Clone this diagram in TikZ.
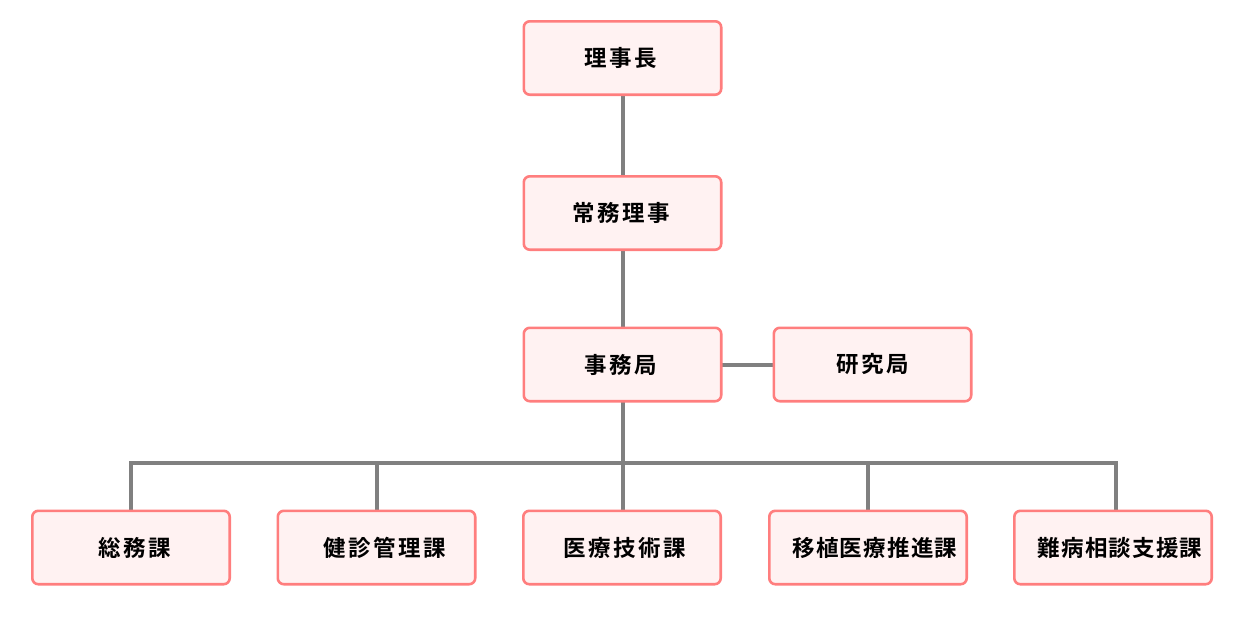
\documentclass[tikz,border=0pt]{standalone}
\usepackage{fontspec}
\newfontfamily\jpfont[LetterSpace=11.4]{Noto Sans CJK JP Bold}
\newfontfamily\jpfontn[LetterSpace=5.3]{Noto Sans CJK JP Bold}
\definecolor{boxline}{HTML}{FF7E7E}
\definecolor{boxfill}{HTML}{FFF2F2}
\definecolor{conn}{HTML}{808080}
\begin{document}
\begin{tikzpicture}[x=1pt,y=-1pt,
  orgbox/.style={minimum width=197pt,minimum height=73pt,inner sep=0pt},
  boxdraw/.style={draw=boxline,fill=boxfill,line width=2.6pt,rounded corners=6pt},
  lbl/.style={font=\jpfont\fontsize{22.5}{26}\selectfont,text=black},
  lbln/.style={font=\jpfontn\fontsize{22.5}{26}\selectfont,text=black},
  link/.style={draw=conn,line width=4pt}]
\useasboundingbox (0,0) rectangle (1244,619);
\coordinate (j) at (622.5,463);
\coordinate (jl) at (131,463);
\coordinate (jr) at (1116,463);
\node[orgbox] (a) at (622.5,58) {};
\node[orgbox] (b) at (622.5,213) {};
\node[orgbox] (c) at (622.5,364.5) {};
\node[orgbox] (r) at (872.5,364.5) {};
\node[orgbox] (d1) at (131,547.5) {};
\node[orgbox] (d2) at (376.5,547.5) {};
\node[orgbox] (d3) at (622,547.5) {};
\node[orgbox] (d4) at (868,547.5) {};
\node[orgbox] (d5) at (1113,547.5) {};
\path[link] (a.south) -- (b.north);
\path[link] (b.south) -- (c.north);
\path[link] (c.east) -- (r.west);
\path[link] (c.south) -- (j);
\path[link,line cap=rect] (jl) -- (jr);
\path[link] (jl) -- (jl |- d1.north);
\path[link] (d2.north |- j) -- (d2.north);
\path[link] (d4.north |- j) -- (d4.north);
\path[link] (jr) -- (jr |- d5.north);
\path[link] (j) -- (j |- d3.north);
\foreach \n in {a,b,c,r,d1,d2,d3,d4,d5}{
  \draw[boxdraw] (\n.south west) rectangle (\n.north east);
}
\node[lbl] (ta) at ([xshift=-1.8pt]a.center) {理事長};
\node[lbl] (tb) at ([xshift=-1pt]b.center) {常務理事};
\node[lbl] (tc) at ([xshift=-1.8pt]c.center) {事務局};
\node[lbl] (tr) at ([xshift=0.3pt]r.center) {研究局};
\node[lbl] (t1) at ([xshift=3.5pt]d1.center) {総務課};
\node[lbl] (t2) at ([xshift=8.2pt]d2.center) {健診管理課};
\node[lbl] (t3) at ([xshift=2.9pt]d3.center) {医療技術課};
\node[lbln] (t4) at ([xshift=6.9pt]d4.center) {移植医療推進課};
\node[lbln] (t5) at ([xshift=7pt]d5.center) {難病相談支援課};
\end{tikzpicture}
\end{document}
